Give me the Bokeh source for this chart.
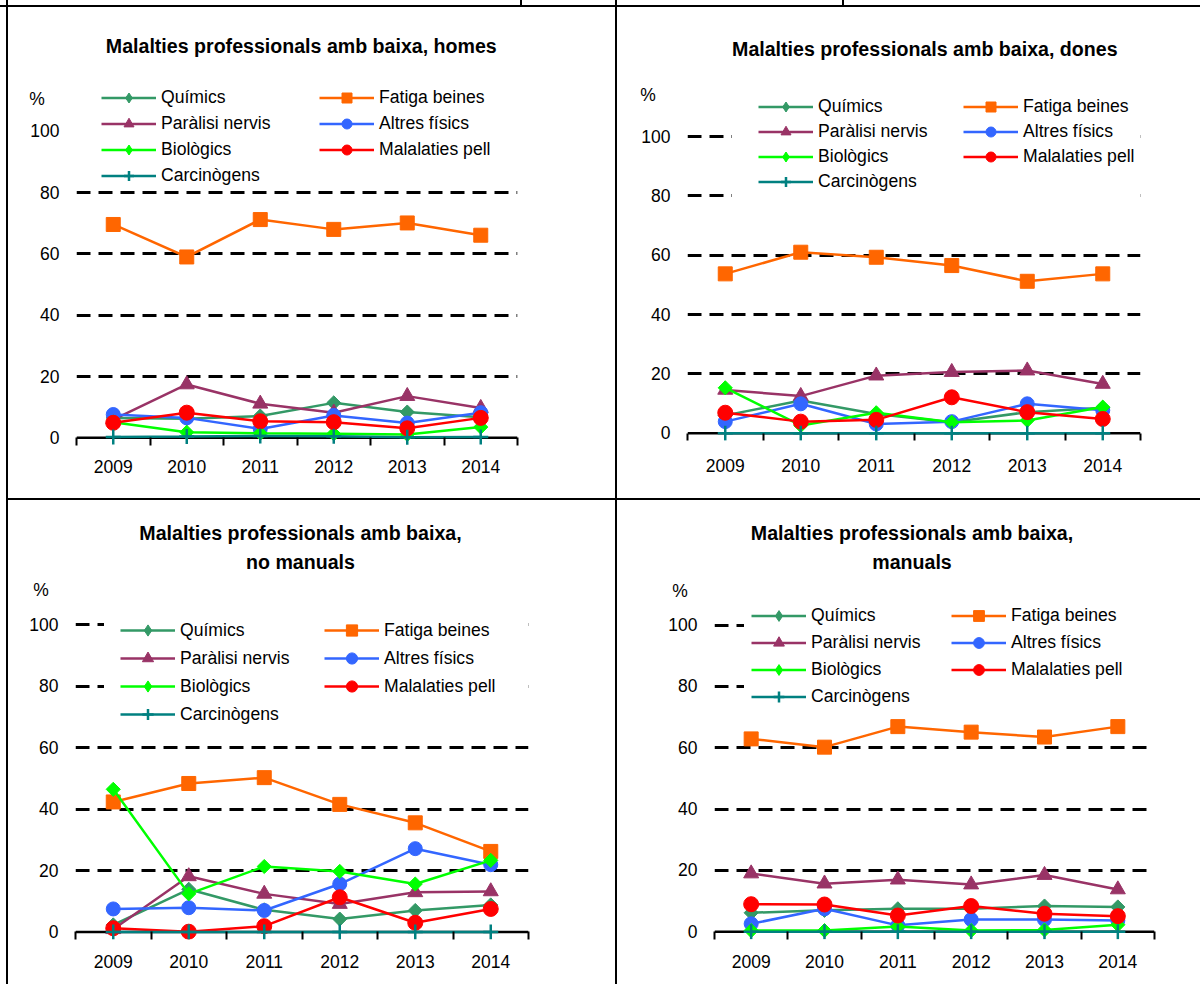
import math
from bokeh.plotting import figure
from bokeh.models import Range1d, FixedTicker, Span, Label, Legend, LegendItem, Div
from bokeh.layouts import column, row
from bokeh.embed import file_html
from bokeh.resources import INLINE

# ---------------- data ----------------
years = [2009, 2010, 2011, 2012, 2013, 2014]
year_labels = ["2009", "2010", "2011", "2012", "2013", "2014"]
y_ticks = [0, 20, 40, 60, 80, 100]

series_names = ["Químics", "Fatiga beines", "Paràlisi nervis", "Altres físics",
                "Biològics", "Malalaties pell", "Carcinògens"]

homes_quimics = [6.5, 6.2, 7.1, 11.4, 8.4, 6.7]
homes_fatiga = [69.6, 59.0, 71.2, 68.0, 70.1, 66.1]
homes_paralisi = [5.9, 17.4, 11.1, 8.2, 13.6, 9.7]
homes_altres = [7.6, 6.5, 2.9, 7.3, 4.8, 8.2]
homes_biologics = [5.1, 1.8, 1.5, 1.3, 1.1, 3.5]
homes_pell = [4.9, 8.2, 5.4, 5.1, 3.1, 6.5]
homes_carcinogens = [0.3, 0.4, 0.6, 0.5, 0.2, 0.3]

dones_quimics = [6.0, 11.0, 6.5, 3.7, 7.1, 8.6]
dones_fatiga = [53.7, 61.0, 59.3, 56.5, 51.2, 53.7]
dones_paralisi = [14.6, 12.5, 19.4, 20.6, 21.1, 16.6]
dones_altres = [3.9, 9.9, 3.1, 3.9, 9.9, 7.7]
dones_biologics = [15.3, 2.6, 6.9, 3.7, 4.3, 8.8]
dones_pell = [6.9, 3.9, 4.5, 12.1, 7.1, 4.8]
dones_carcinogens = [0.0, 0.0, 0.0, 0.0, 0.0, 0.0]

nomanuals_quimics = [2.3, 13.9, 7.2, 4.2, 7.0, 8.8]
nomanuals_fatiga = [42.3, 48.3, 50.2, 41.5, 35.5, 26.2]
nomanuals_paralisi = [0.9, 18.1, 12.4, 9.1, 12.9, 13.2]
nomanuals_altres = [7.5, 7.9, 7.0, 15.6, 27.1, 21.9]
nomanuals_biologics = [46.4, 12.4, 21.3, 19.7, 15.6, 23.3]
nomanuals_pell = [1.2, 0.1, 1.9, 11.3, 3.0, 7.5]
nomanuals_carcinogens = [0.0, 0.0, 0.0, 0.0, 0.0, 0.0]

manuals_quimics = [6.2, 7.0, 7.5, 7.5, 8.4, 8.1]
manuals_fatiga = [62.9, 60.2, 66.9, 65.1, 63.5, 66.9]
manuals_paralisi = [19.0, 15.7, 17.0, 15.4, 18.5, 13.8]
manuals_altres = [2.6, 7.5, 2.1, 4.0, 4.0, 3.7]
manuals_biologics = [0.4, 0.4, 1.7, 0.4, 0.6, 2.3]
manuals_pell = [9.0, 8.9, 5.3, 8.4, 5.9, 5.1]
manuals_carcinogens = [0.0, 0.0, 0.0, 0.0, 0.0, 0.0]

# ---------------- styles ----------------
FONT = "Liberation Sans"
TICK_SIZE = 17.5
colors = ["#339966", "#FF6600", "#993366", "#3366FF", "#00FF00", "#FF0000", "#008080"]
markers = ["square", "square", "triangle", "circle", "square", "circle", "cross"]
legend_markers = ["diamond", "square", "triangle", "circle", "diamond", "circle", "cross"]
angles = [math.pi / 4, 0, 0, 0, math.pi / 4, 0, 0]
sizes = [10, 14, 15, 14, 10, 15, 15]


def make_panel(values, titles, cfg):
    ox, oy = cfg["origin"]
    W, H = cfg["size"]
    fl, fr, ft, fb = cfg["frame"]
    zero, ppu = cfg["zero"], cfg["ppu"]
    x0, x1 = years[0] - 0.5, years[-1] + 0.5
    cw = (fr - fl) / (x1 - x0)
    y_end = (zero - ft) / ppu
    y_start = (zero - fb) / ppu

    p = figure(width=W, height=H, x_range=Range1d(x0, x1), y_range=Range1d(y_start, y_end),
               output_backend="svg", toolbar_location=None,
               min_border_left=fl - ox, min_border_right=ox + W - fr,
               min_border_top=ft - oy, min_border_bottom=oy + H - fb)
    # range used only by legend swatches, so that those renderers draw nothing in the plot
    p.extra_y_ranges = {"swatch": Range1d(1000, 2000)}
    p.outline_line_color = None
    p.background_fill_color = "white"
    p.border_fill_color = "white"
    p.xgrid.visible = False
    p.ygrid.ticker = FixedTicker(ticks=cfg["grid"])
    p.ygrid.grid_line_color = "black"
    p.ygrid.grid_line_width = 3
    p.ygrid.grid_line_dash = "14 8"

    # y axis (with the "%" unit shown as an extra label above 100)
    y_standoff = 17
    pct_x, pct_y = cfg["pct"]
    pct_val = round((zero - pct_y) / ppu, 2)
    pct_w = 0.889 * TICK_SIZE
    gap = (fl - y_standoff) - (pct_x + pct_w / 2)
    n_sp = max(0, int(round(gap / (0.278 * TICK_SIZE))))
    p.yaxis.ticker = FixedTicker(ticks=y_ticks + [pct_val])
    p.yaxis.major_label_overrides = {pct_val: "%" + "\u00a0" * n_sp}
    p.yaxis.axis_line_color = None
    p.yaxis.major_tick_line_color = None
    p.yaxis.minor_tick_line_color = None
    p.yaxis.major_tick_out = 0
    p.yaxis.major_tick_in = 0
    p.yaxis.major_label_standoff = y_standoff
    p.yaxis.major_label_text_font = FONT
    p.yaxis.major_label_text_font_size = f"{TICK_SIZE}px"
    p.yaxis.major_label_text_color = "black"

    # x axis: labels centred on years, tick marks between categories
    p.xaxis.ticker = FixedTicker(ticks=years, minor_ticks=[y - 0.5 for y in years] + [years[-1] + 0.5])
    p.xaxis.major_label_overrides = {y: lab for y, lab in zip(years, year_labels)}
    p.xaxis.axis_line_color = None
    p.xaxis.major_tick_line_color = None
    p.xaxis.major_tick_out = 0
    p.xaxis.major_tick_in = 0
    p.xaxis.minor_tick_line_color = "black"
    p.xaxis.minor_tick_line_width = 2
    p.xaxis.minor_tick_in = int(round(fb - zero))
    p.xaxis.minor_tick_out = 0
    p.xaxis.major_label_standoff = cfg["standoff"]
    p.xaxis.major_label_text_font = FONT
    p.xaxis.major_label_text_font_size = f"{TICK_SIZE}px"
    p.xaxis.major_label_text_color = "black"

    p.add_layout(Span(location=0, dimension="width", line_color="black", line_width=2.5, level="underlay"))

    items = []
    for name, vals, c, m, lm, a, s in zip(series_names, values, colors, markers, legend_markers, angles, sizes):
        lr = p.line(years, vals, line_color=c, line_width=2.5)
        if m == "cross":
            sr = p.scatter(years, vals, marker=m, size=s, line_color=c, line_width=2.5)
        else:
            sr = p.scatter(years, vals, marker=m, size=s, angle=a, fill_color=c, line_color=c)
        if lm != m:
            er = p.scatter(years, vals, y_range_name="swatch", marker=lm, size=s,
                           fill_color=c, line_color=c)
            items.append(LegendItem(label=name, renderers=[lr, er]))
        else:
            items.append(LegendItem(label=name, renderers=[lr, sr]))

    lg = cfg["legend"]
    pad, hi, sp = lg["pad"], lg["h"], lg["sp"]
    box_left = lg["gx"] - pad
    box_top = lg["r0"] - hi / 2 - pad
    box_bottom = box_top + 2 * pad + 4 * hi + 3 * sp
    legend = Legend(items=items, orientation="horizontal", ncols=2,
                    location=(box_left - fl, fb - box_bottom),
                    padding=pad, spacing=sp, margin=0,
                    glyph_width=55, glyph_height=hi, label_height=hi,
                    label_width=lg["lw"], label_standoff=5,
                    background_fill_color="white", background_fill_alpha=1.0,
                    border_line_color="white", border_line_width=1,
                    label_text_font=FONT, label_text_font_size="17.6px",
                    label_text_color="black")
    p.add_layout(legend, "center")

    def to_data(px, py):
        return x0 + (px - fl) / cw, (zero - py) / ppu

    for text, px, py in titles:
        xd, yd = to_data(px, py)
        p.add_layout(Label(x=xd, y=yd, text=text, text_align="center", text_baseline="middle",
                           text_font=FONT, text_font_size="19.6px", text_font_style="bold",
                           text_color="black"))
    return p


MB_TOP_ROW = 48
MB_BOT_ROW = 45

cfg_tl = dict(origin=(8, 7), size=(607, 445 + MB_TOP_ROW - 7), frame=(76, 517, 7, 445), zero=437.3, ppu=3.065,
              standoff=14, grid=[20, 40, 60, 80],
              legend=dict(gx=100, r0=98.3, h=25, sp=1, pad=1, lw=157), pct=(38.3, 98))
cfg_tr = dict(origin=(617, 7), size=(583, 440 + MB_TOP_ROW - 7), frame=(687, 1140, 7, 440), zero=432.7, ppu=2.967,
              standoff=18, grid=[20, 40, 60, 80, 100],
              legend=dict(gx=757, r0=107, h=25, sp=0, pad=25, lw=145), pct=(646, 95))
cfg_bl = dict(origin=(8, 500), size=(607, 939 + MB_BOT_ROW - 500), frame=(75, 528, 500, 939), zero=931.5, ppu=3.075,
              standoff=15, grid=[20, 40, 60, 80, 100],
              legend=dict(gx=119, r0=631, h=28, sp=0, pad=15, lw=144), pct=(40, 589))
cfg_br = dict(origin=(617, 500), size=(583, 939 + MB_BOT_ROW - 500), frame=(714, 1154, 500, 939), zero=931.3, ppu=3.067,
              standoff=15, grid=[20, 40, 60, 80, 100],
              legend=dict(gx=750, r0=616, h=27, sp=0, pad=6, lw=140), pct=(679.6, 590))

p_tl = make_panel([homes_quimics, homes_fatiga, homes_paralisi, homes_altres, homes_biologics,
                   homes_pell, homes_carcinogens],
                  [("Malalties professionals amb baixa, homes", 300.8, 45.5)], cfg_tl)
p_tr = make_panel([dones_quimics, dones_fatiga, dones_paralisi, dones_altres, dones_biologics,
                   dones_pell, dones_carcinogens],
                  [("Malalties professionals amb baixa, dones", 924.3, 48)], cfg_tr)
p_bl = make_panel([nomanuals_quimics, nomanuals_fatiga, nomanuals_paralisi, nomanuals_altres,
                   nomanuals_biologics, nomanuals_pell, nomanuals_carcinogens],
                  [("Malalties professionals amb baixa,", 300, 532), ("no manuals", 300, 561.5)], cfg_bl)
p_br = make_panel([manuals_quimics, manuals_fatiga, manuals_paralisi, manuals_altres,
                   manuals_biologics, manuals_pell, manuals_carcinogens],
                  [("Malalties professionals amb baixa,", 911.5, 532), ("manuals", 911.5, 561.5)], cfg_br)


def box(w, h, color):
    return Div(text="", width=w, height=h, margin=0, styles={"background-color": color})


TOP_H = 498 - 7
BOT_H = 984 - 500

strip = row(box(6, 5, "white"), box(2, 5, "black"), box(512, 5, "white"), box(2, 5, "black"),
            box(93, 5, "white"), box(2, 5, "black"), box(225, 5, "white"), box(2, 5, "black"),
            box(356, 5, "white"), spacing=0)

top_row = row(box(6, TOP_H, "white"), box(2, TOP_H, "black"),
              column(p_tl, box(607, TOP_H - cfg_tl["size"][1], "white"), spacing=0),
              box(2, TOP_H, "black"),
              column(p_tr, box(583, TOP_H - cfg_tr["size"][1], "white"), spacing=0),
              spacing=0)
bot_row = row(box(6, BOT_H, "white"), box(2, BOT_H, "black"), p_bl,
              box(2, BOT_H, "black"), p_br, spacing=0)

layout = column(
    strip,
    box(1200, 2, "black"),
    top_row,
    row(box(6, 2, "white"), box(1194, 2, "black"), spacing=0),
    bot_row,
    spacing=0,
)

open("out.html", "w").write(file_html(layout, INLINE))
